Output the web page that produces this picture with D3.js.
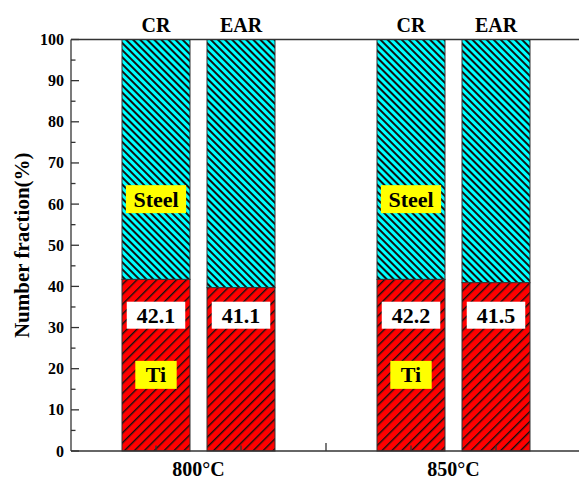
<!DOCTYPE html>
<html>
<head>
<meta charset="utf-8">
<script src="https://cdn.jsdelivr.net/npm/d3@7"></script>
<style>
  html, body { margin: 0; padding: 0; background: #fff; }
  svg { display: block; }
</style>
</head>
<body>
<div id="chart"></div>
<script>
// Data
const temperatures = ['800\u00B0C', '850\u00B0C'];
const methods = ['CR', 'EAR'];
const tiFraction = [41.7, 39.7, 41.7, 40.9];      // drawn heights of the Ti segment
const tiLabels = ['42.1', '41.1', '42.2', '41.5'];  // values printed in the boxes
const yTicks = [0, 10, 20, 30, 40, 50, 60, 70, 80, 90, 100];

const width = 579, height = 481;
const margin = { top: 39.5, right: -2, bottom: 30, left: 71 };
const FONT = 'Liberation Serif';

const svg = d3.select('#chart').append('svg')
  .attr('width', width)
  .attr('height', height);

// bar slots: group g, method m -> position g*3 + m + 1 (a gap slot between groups)
const bars = [];
temperatures.forEach((t, g) => {
  methods.forEach((m, k) => {
    const i = g * methods.length + k;
    bars.push({ temp: t, method: m, pos: g * 3 + k + 1, ti: tiFraction[i], label: tiLabels[i] });
  });
});

const x = d3.scaleLinear().domain([0, 6]).range([margin.left, width - margin.right]);
const y = d3.scaleLinear().domain([0, 100]).range([height - margin.bottom, margin.top]);
const barW = (x(1) - x(0)) * 0.8;

// hatch patterns
const defs = svg.append('defs');
const steelPat = defs.append('pattern')
  .attr('id', 'steelHatch')
  .attr('patternUnits', 'userSpaceOnUse')
  .attr('width', 5).attr('height', 5)
  .attr('patternTransform', 'rotate(-45)');
steelPat.append('rect').attr('width', 5).attr('height', 5).attr('fill', '#00ffff');
steelPat.append('rect').attr('x', 0).attr('width', 2).attr('height', 5).attr('fill', '#111');

const tiPat = defs.append('pattern')
  .attr('id', 'tiHatch')
  .attr('patternUnits', 'userSpaceOnUse')
  .attr('width', 7).attr('height', 7)
  .attr('patternTransform', 'rotate(45)');
tiPat.append('rect').attr('width', 7).attr('height', 7).attr('fill', '#ff0000');
tiPat.append('rect').attr('x', 0).attr('width', 1.4).attr('height', 7).attr('fill', '#111');

const plot = svg.append('g');

// Steel (rest of 100%)
plot.selectAll('.steel')
  .data(bars)
  .join('rect')
    .attr('class', 'steel')
    .attr('x', d => x(d.pos) - barW / 2)
    .attr('width', barW)
    .attr('y', y(100))
    .attr('height', d => y(d.ti) - y(100))
    .attr('fill', 'url(#steelHatch)')
    .attr('stroke', '#333')
    .attr('stroke-width', 1);

// Ti
plot.selectAll('.ti')
  .data(bars)
  .join('rect')
    .attr('class', 'ti')
    .attr('x', d => x(d.pos) - barW / 2)
    .attr('width', barW)
    .attr('y', d => y(d.ti))
    .attr('height', d => y(0) - y(d.ti))
    .attr('fill', 'url(#tiHatch)')
    .attr('stroke', '#333')
    .attr('stroke-width', 1);

// label boxes
function boxLabel(sel, text, cx, cy, fill, padX, h) {
  const g = sel.append('g');
  const t = g.append('text')
    .attr('x', cx).attr('y', cy + 7.5)
    .attr('text-anchor', 'middle')
    .attr('font-family', FONT)
    .attr('font-weight', 'bold')
    .attr('font-size', 22)
    .attr('fill', '#000')
    .text(text);
  const bb = t.node().getBBox();
  g.insert('rect', 'text')
    .attr('x', cx - bb.width / 2 - padX)
    .attr('y', cy - h / 2)
    .attr('width', bb.width + padX * 2)
    .attr('height', h)
    .attr('fill', fill);
}

bars.forEach(d => {
  boxLabel(svg, d.label, x(d.pos), y(33), '#fff', 10, 27);
  if (d.method === 'CR') {
    boxLabel(svg, 'Steel', x(d.pos), y(61.2), '#ffff00', 7.5, 28);
    boxLabel(svg, 'Ti', x(d.pos), y(18.5), '#ffff00', 10.5, 28);
  }
});

// axes
const axisG = svg.append('g').attr('stroke', '#333').attr('stroke-width', 1.3);
axisG.append('line').attr('x1', x(0)).attr('x2', width + 2).attr('y1', y(0)).attr('y2', y(0));
axisG.append('line').attr('x1', x(0)).attr('x2', width + 2).attr('y1', y(100)).attr('y2', y(100));
axisG.append('line').attr('x1', x(0)).attr('x2', x(0)).attr('y1', y(0)).attr('y2', y(100));

// left ticks (inward)
axisG.selectAll('.ytick')
  .data(d3.range(0, 101, 5))
  .join('line')
    .attr('x1', x(0))
    .attr('x2', d => x(0) + (d % 10 === 0 ? 8 : 4.5))
    .attr('y1', d => y(d)).attr('y2', d => y(d));

// bottom ticks (inward)
axisG.selectAll('.xtick')
  .data([1, 2, 3, 4, 5])
  .join('line')
    .attr('x1', d => x(d)).attr('x2', d => x(d))
    .attr('y1', y(0))
    .attr('y2', d => y(0) - (d === 3 ? 8 : 5.5));

svg.append('g')
  .selectAll('text')
  .data(yTicks)
  .join('text')
    .attr('x', x(0) - 7)
    .attr('y', d => y(d) + 5.5)
    .attr('text-anchor', 'end')
    .attr('font-family', FONT)
    .attr('font-weight', 'bold')
    .attr('font-size', 16)
    .text(d => d);

// method labels on top
svg.append('g')
  .selectAll('text')
  .data(bars)
  .join('text')
    .attr('x', d => x(d.pos))
    .attr('y', 32)
    .attr('text-anchor', 'middle')
    .attr('font-family', FONT)
    .attr('font-weight', 'bold')
    .attr('font-size', 20)
    .text(d => d.method);

// temperature labels
svg.append('g')
  .selectAll('text')
  .data(temperatures)
  .join('text')
    .attr('x', (d, g) => x(g * 3 + 1.5))
    .attr('y', 476)
    .attr('text-anchor', 'middle')
    .attr('font-family', FONT)
    .attr('font-weight', 'bold')
    .attr('font-size', 20)
    .text(d => d);

// y axis title
svg.append('text')
  .attr('transform', `translate(29,${(y(0) + y(100)) / 2}) rotate(-90)`)
  .attr('text-anchor', 'middle')
  .attr('font-family', FONT)
  .attr('font-weight', 'bold')
  .attr('font-size', 21)
  .text('Number fraction(%)');
</script>
</body>
</html>
